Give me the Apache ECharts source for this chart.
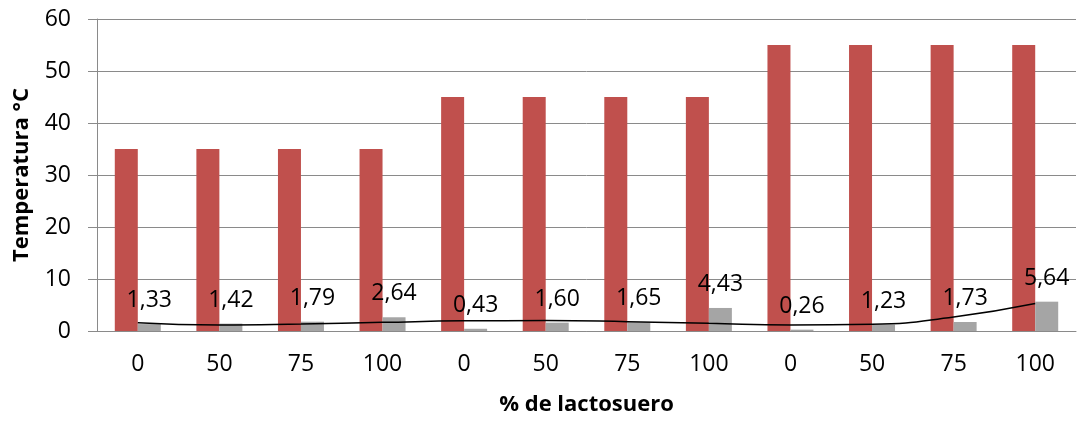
<!DOCTYPE html>
<html>
<head>
<meta charset="utf-8">
<script src="https://cdn.jsdelivr.net/npm/echarts@6/dist/echarts.min.js"></script>
<style>
  html, body { margin: 0; padding: 0; background: #fff; }
  #chart { width: 1078px; height: 421px; }
</style>
</head>
<body>
<div id="chart"></div>
<script>
// % de lactosuero for each sample, grouped by temperature
const categories = ['0', '50', '75', '100', '0', '50', '75', '100', '0', '50', '75', '100'];
// Process temperature (°C)
const temperatura = [35, 35, 35, 35, 45, 45, 45, 45, 55, 55, 55, 55];
// Measured response shown with data labels
const medida = [1.33, 1.42, 1.79, 2.64, 0.43, 1.60, 1.65, 4.43, 0.26, 1.23, 1.73, 5.64];
// Polynomial trend through the measured values
const tendencia = [1.6, 1.15, 1.34, 1.66, 1.95, 2.0, 1.8, 1.47, 1.15, 1.28, 2.7, 5.3];
const yTicks = { min: 0, max: 60, interval: 10 };

const FONT = '"Open Sans", "DejaVu Sans", sans-serif';
const GRID_GRAY = '#8a8a8a';

const chart = echarts.init(document.getElementById('chart'), null, { renderer: 'canvas' });

chart.setOption({
  animation: false,
  backgroundColor: '#ffffff',
  grid: { left: 97, right: 2, top: 19, bottom: 88, containLabel: false },
  xAxis: {
    type: 'category',
    data: categories,
    boundaryGap: true,
    name: '% de lactosuero',
    nameLocation: 'middle',
    nameGap: 63,
    nameTextStyle: { fontFamily: FONT, fontSize: 22, fontWeight: 'bold', color: '#000' },
    axisLine: { show: true, lineStyle: { color: GRID_GRAY, width: 1 } },
    axisTick: { show: false },
    axisLabel: { fontFamily: FONT, fontSize: 23, color: '#000', margin: 22, interval: 0 },
    splitLine: { show: false }
  },
  yAxis: {
    type: 'value',
    min: yTicks.min,
    max: yTicks.max,
    interval: yTicks.interval,
    name: 'Temperatura °C',
    nameLocation: 'middle',
    nameGap: 64,
    nameRotate: 90,
    nameTextStyle: { fontFamily: FONT, fontSize: 22, fontWeight: 'bold', color: '#000' },
    axisLine: { show: true, lineStyle: { color: GRID_GRAY, width: 1 } },
    axisTick: { show: true, inside: false, length: 9, lineStyle: { color: GRID_GRAY, width: 1 } },
    axisLabel: { fontFamily: FONT, fontSize: 23, color: '#000', margin: 26 },
    splitLine: { show: true, lineStyle: { color: GRID_GRAY, width: 1 } }
  },
  series: [
    {
      name: 'Temperatura',
      type: 'bar',
      data: temperatura,
      barWidth: 23,
      barGap: '0%',
      itemStyle: { color: '#C0504D' },
      z: 2
    },
    {
      name: 'Medida',
      type: 'bar',
      data: medida,
      barWidth: 23,
      barGap: '0%',
      itemStyle: { color: '#A5A5A5' },
      label: {
        show: true,
        position: 'top',
        distance: 12,
        fontFamily: FONT,
        fontSize: 23,
        color: '#000',
        formatter: p => p.value.toFixed(2).replace('.', ',')
      },
      z: 2
    },
    {
      name: 'Polinómica',
      type: 'line',
      data: tendencia,
      smooth: true,
      symbol: 'none',
      lineStyle: { color: '#000', width: 1.5 },
      z: 3
    }
  ]
});
</script>
</body>
</html>
